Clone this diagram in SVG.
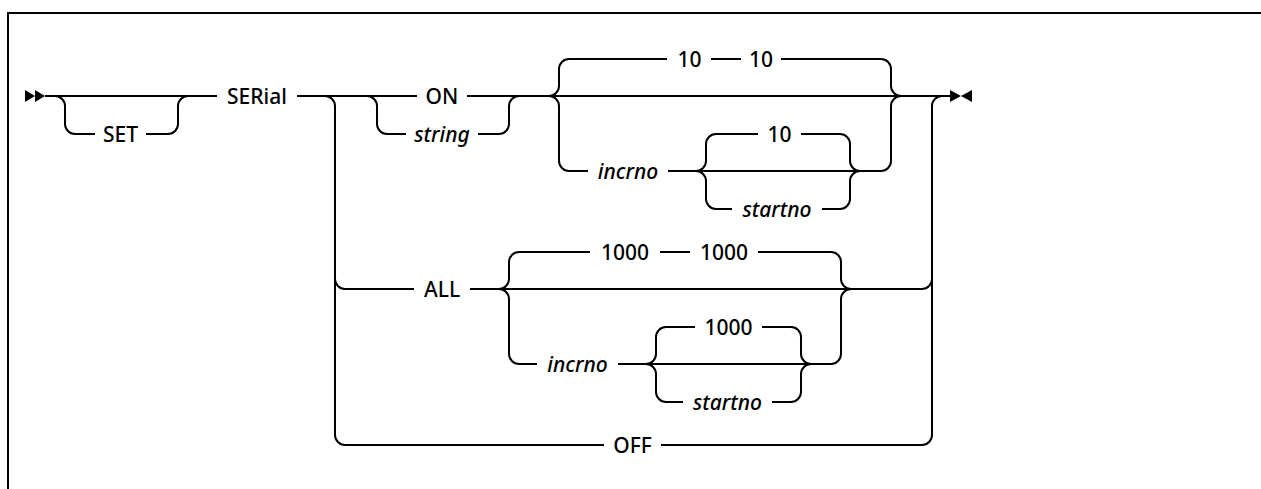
<svg xmlns="http://www.w3.org/2000/svg" width="1261" height="489" viewBox="0 0 1261 489">
<style>
.t{font-family:"Noto Sans","Liberation Sans",sans-serif;font-size:21px;font-weight:500;fill:#000;text-anchor:middle}
.i{font-style:italic}
.c{fill:none;stroke:#000;stroke-width:2}
.m{fill:#000;stroke:none}
</style>
<rect x="0" y="0" width="1261" height="489" fill="#fff"/>
<path class="c" d="M8,489 V13 H1261"/>
<g id="connectors">
<path class="m" d="M25,90 L35,96 L25,102 Z M35,90 L45,96 L35,102 Z"/>
<path class="m" d="M950,90 L961,96 L950,102 Z M972,90 L961,96 L972,102 Z"/>
<path class="c" d="M45,96 H217 M297,96 H417 M467,96 H950"/>
<path class="c" d="M55,96 a10,10 0 0 1 10,10 V124 a10,10 0 0 0 10,10 H95 M146,134 H168 a10,10 0 0 0 10,-10 V106 a10,10 0 0 1 10,-10"/>
<path class="c" d="M325,96 a10,10 0 0 1 10,10 V435 a10,10 0 0 0 10,10 H604 M661,445 H922 a10,10 0 0 0 10,-10 V106 a10,10 0 0 1 10,-10"/>
<path class="c" d="M335,279 a10,10 0 0 0 10,10 H414 M470,289 H922 a10,10 0 0 0 10,-10"/>
<path class="c" d="M367,96 a10,10 0 0 1 10,10 V124 a10,10 0 0 0 10,10 H406 M478,134 H499 a10,10 0 0 0 10,-10 V106 a10,10 0 0 1 10,-10"/>
<path class="c" d="M549,96 a10,10 0 0 0 10,-10 V69 a10,10 0 0 1 10,-10 H667 M711,59 H741 M781,59 H881 a10,10 0 0 1 10,10 V86 a10,10 0 0 0 10,10"/>
<path class="c" d="M549,96 a10,10 0 0 1 10,10 V161 a10,10 0 0 0 10,10 H588 M668,171 H881 a10,10 0 0 0 10,-10 V106 a10,10 0 0 1 10,-10"/>
<path class="c" d="M696,171 a10,10 0 0 0 10,-10 V144 a10,10 0 0 1 10,-10 H758 M801,134 H840 a10,10 0 0 1 10,10 V161 a10,10 0 0 0 10,10"/>
<path class="c" d="M696,171 a10,10 0 0 1 10,10 V199 a10,10 0 0 0 10,10 H732 M822,209 H840 a10,10 0 0 0 10,-10 V181 a10,10 0 0 1 10,-10"/>
<path class="c" d="M499,289 a10,10 0 0 0 10,-10 V262 a10,10 0 0 1 10,-10 H590 M660,252 H690 M758,252 H831 a10,10 0 0 1 10,10 V279 a10,10 0 0 0 10,10"/>
<path class="c" d="M499,289 a10,10 0 0 1 10,10 V354 a10,10 0 0 0 10,10 H537 M618,364 H831 a10,10 0 0 0 10,-10 V299 a10,10 0 0 1 10,-10"/>
<path class="c" d="M646,364 a10,10 0 0 0 10,-10 V337 a10,10 0 0 1 10,-10 H695 M762,327 H791 a10,10 0 0 1 10,10 V354 a10,10 0 0 0 10,10"/>
<path class="c" d="M646,364 a10,10 0 0 1 10,10 V392 a10,10 0 0 0 10,10 H683 M772,402 H791 a10,10 0 0 0 10,-10 V374 a10,10 0 0 1 10,-10"/>
</g>
<g id="n-set"><text class="t" x="120.5" y="141.5">SET</text></g>
<g id="n-serial"><text class="t" x="257" y="103.5">SERial</text></g>
<g id="n-on"><text class="t" x="442" y="103.5">ON</text></g>
<g id="n-string"><text class="t i" x="442" y="141.5">string</text></g>
<g id="n-10a"><text class="t" x="689.5" y="66.5">10</text></g>
<g id="n-10b"><text class="t" x="761" y="66.5">10</text></g>
<g id="n-incrno1"><text class="t i" x="628" y="178.5">incrno</text></g>
<g id="n-10c"><text class="t" x="779.5" y="141.5">10</text></g>
<g id="n-startno1"><text class="t i" x="777" y="216.5">startno</text></g>
<g id="n-all"><text class="t" x="442" y="296.5">ALL</text></g>
<g id="n-1000a"><text class="t" x="625" y="259.5">1000</text></g>
<g id="n-1000b"><text class="t" x="724" y="259.5">1000</text></g>
<g id="n-incrno2"><text class="t i" x="577.5" y="371.5">incrno</text></g>
<g id="n-1000c"><text class="t" x="728.5" y="334.5">1000</text></g>
<g id="n-startno2"><text class="t i" x="727.5" y="409.5">startno</text></g>
<g id="n-off"><text class="t" x="632.5" y="452.5">OFF</text></g>
</svg>
